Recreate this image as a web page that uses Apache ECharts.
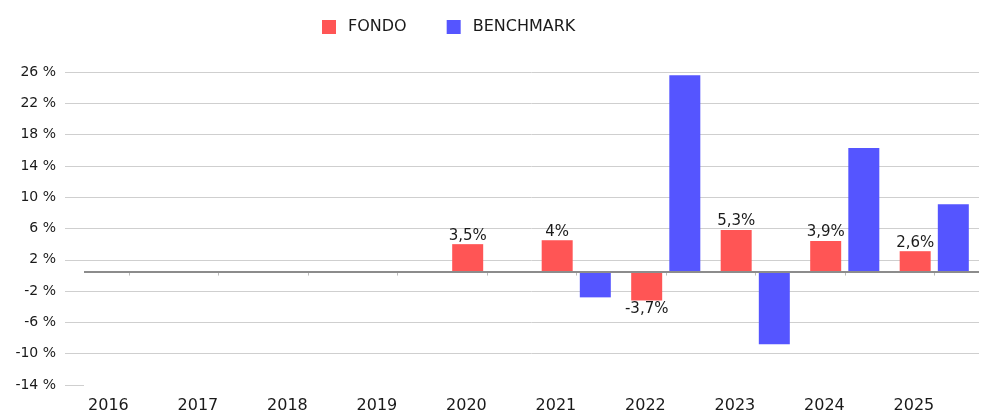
<!DOCTYPE html>
<html>
<head>
<meta charset="utf-8">
<script src="https://cdn.jsdelivr.net/npm/echarts@6/dist/echarts.min.js"></script>
<style>
  html, body { margin: 0; padding: 0; background: #fff; }
  #chart { width: 987px; height: 414px; }
</style>
</head>
<body>
<div id="chart"></div>
<script>
'use strict';

var years = ['2016', '2017', '2018', '2019', '2020', '2021', '2022', '2023', '2024', '2025'];
var fondo = [null, null, null, null, 3.5, 4, -3.7, 5.3, 3.9, 2.6];
var benchmark = [null, null, null, null, null, -3.3, 25.1, -9.3, 15.8, 8.6];
var seriesNames = ['FONDO', 'BENCHMARK'];

var RED = '#ff5555';
var BLUE = '#5555ff';
var GRID = '#cfcfcf';
var TEXT = '#1a1a1a';
var FONT = 'DejaVu Sans';

// bar labels go above positive bars, below negative ones
var fondoData = fondo.map(function (v) {
    if (v === null) return null;
    return { value: v, label: { position: v < 0 ? 'bottom' : 'top' } };
});

// the first split line (at the bottom) is not drawn in the original
var splitColors = ['rgba(0,0,0,0)'];
for (var i = 0; i < 10; i++) splitColors.push(GRID);

var chart = echarts.init(document.getElementById('chart'));

chart.setOption({
    animation: false,
    backgroundColor: '#fff',
    legend: {
        data: seriesNames,
        left: 317,
        top: 14,
        icon: 'rect',
        itemWidth: 14,
        itemHeight: 14,
        itemGap: 40,
        textStyle: { fontFamily: FONT, fontSize: 16, color: TEXT, padding: [0, 0, 0, 7] }
    },
    grid: { left: 84, right: 8, top: 72, bottom: 28, containLabel: false },
    xAxis: {
        type: 'category',
        data: years,
        axisLine: { show: false },
        axisTick: { show: true, alignWithLabel: true, length: 4, lineStyle: { color: '#bbb' } },
        axisLabel: {
            align: 'right',
            margin: 13,
            fontFamily: FONT,
            fontSize: 16,
            color: TEXT
        },
        splitLine: { show: false }
    },
    yAxis: {
        type: 'value',
        min: -14.5,
        max: 25.5,
        interval: 4,
        axisLine: { show: false },
        axisTick: { show: true, length: 19, lineStyle: { color: GRID } },
        axisLabel: {
            margin: 28,
            fontFamily: FONT,
            fontSize: 14,
            color: TEXT,
            formatter: function (v) { return Math.round(v) + ' %'; }
        },
        splitLine: { show: true, lineStyle: { color: splitColors, width: 1 } }
    },
    series: [
        {
            name: seriesNames[0],
            type: 'bar',
            data: fondoData,
            barWidth: 31,
            barGap: '23%',
            itemStyle: { color: RED },
            label: {
                show: true,
                distance: 1,
                fontFamily: FONT,
                fontSize: 15,
                color: TEXT,
                formatter: function (p) { return String(p.value).replace('.', ',') + '%'; }
            },
            markLine: {
                silent: true,
                symbol: ['none', 'none'],
                label: { show: false },
                lineStyle: { color: '#8c8c8c', width: 2, type: 'solid' },
                data: [{ yAxis: 0 }]
            }
        },
        {
            name: seriesNames[1],
            type: 'bar',
            data: benchmark,
            barWidth: 31,
            barGap: '23%',
            itemStyle: { color: BLUE }
        }
    ]
});
</script>
</body>
</html>
